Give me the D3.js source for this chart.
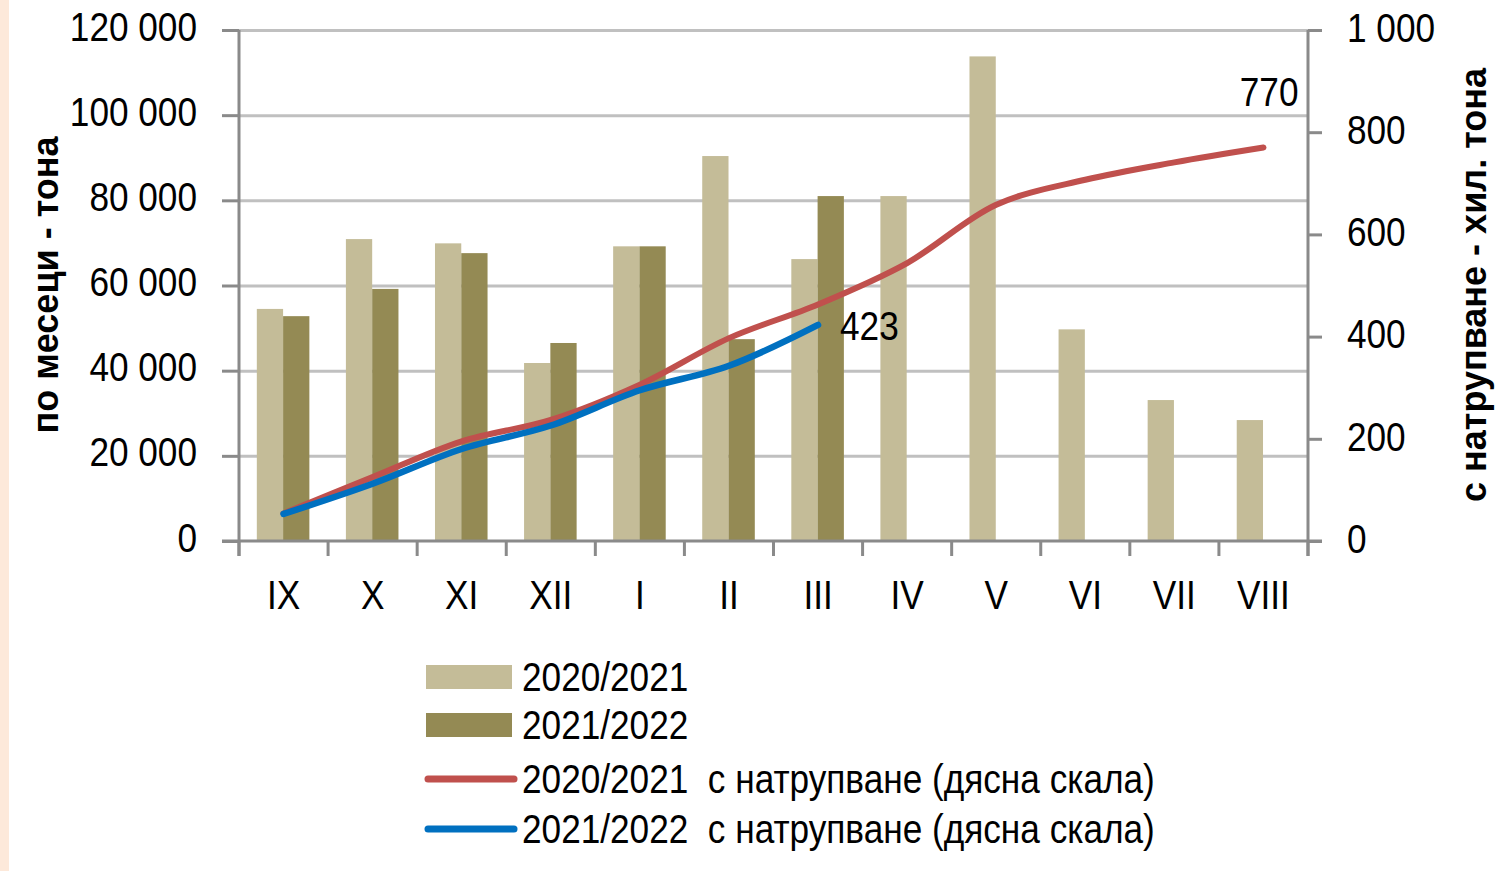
<!DOCTYPE html>
<html lang="bg">
<head>
<meta charset="UTF-8">
<title>Chart</title>
<script src="https://d3js.org/d3.v7.min.js"></script>
<style>
  html, body { margin: 0; padding: 0; background: #fff; }
  svg text { font-family: "Liberation Sans", Arial, sans-serif; fill: #000; }
</style>
</head>
<body>
<svg id="chart" width="1497" height="871"></svg>
<script>
// months of the marketing year
var months = ['IX', 'X', 'XI', 'XII', 'I', 'II', 'III', 'IV', 'V', 'VI', 'VII', 'VIII']
// monthly values, tonnes
var bars2021 = [54500, 70900, 69900, 41800, 69200, 90400, 66200, 81000, 113800, 49700, 33100, 28400]
var bars2022 = [52800, 59200, 67600, 46500, 69200, 47400, 81000]
// cumulative, thousand tonnes (right scale)
var cum2021 = [54, 125, 195, 237, 306, 397, 463, 544, 658, 707, 741, 770]
var cum2022 = [53, 112, 180, 226, 295, 343, 423]

var leftTicks = [0, 20000, 40000, 60000, 80000, 100000, 120000]
var rightTicks = [0, 200, 400, 600, 800, 1000]
var seriesNames = ['2020/2021', '2021/2022']
var legendLabels = ['2020/2021', '2021/2022', '2020/2021  с натрупване (дясна скала)', '2021/2022  с натрупване (дясна скала)']

var colLight = '#c4bc98'
var colDark = '#948a54'
var colRed = '#c0504d'
var colBlue = '#0070c0'
var colAxis = '#8a8a8a'
var colGrid = '#c0c0c0'
var squeeze = 0.88 // the original uses a narrow face

var svg = d3.select('#chart')
var plotL = 239, plotR = 1308, plotT = 30, plotB = 541

// narrow text: scale horizontally, keep anchor position
function narrow(sel) {
    sel.each(function () {
        var t = d3.select(this)
        var xv = +(t.attr('x') || 0)
        t.attr('x', xv / squeeze).attr('transform', function () {
            var old = t.attr('transform') || ''
            return old + ' scale(' + squeeze + ',1)'
        })
    })
}

// peach strip at the left edge
svg.append('rect').attr('x', 0).attr('y', 0).attr('width', 9).attr('height', 871).attr('fill', '#fde9da')

var x = d3.scaleBand().domain(months).range([plotL, plotR]).padding(0)
var xs = d3.scaleBand().domain(seriesNames).range([x.bandwidth() * 0.2, x.bandwidth() * 0.79])
var yL = d3.scaleLinear().domain([0, 120000]).range([plotB, plotT])
var yR = d3.scaleLinear().domain([0, 1000]).range([plotB, plotT])

function fmt(v) {
    return d3.format(',')(v).replace(/,/g, ' ')
}

// gridlines
svg.append('g')
    .attr('transform', 'translate(' + plotL + ',0)')
    .call(d3.axisRight(yL).tickValues(leftTicks.slice(1)).tickSize(plotR - plotL).tickFormat(''))
    .call(function (g) {
        g.select('.domain').remove()
        g.selectAll('line').attr('stroke', colGrid).attr('stroke-width', 3)
    })

// bars
var groups = svg.append('g').selectAll('g').data(months).join('g')
    .attr('transform', function (d) { return 'translate(' + x(d) + ',0)' })

groups.append('rect')
    .attr('x', xs('2020/2021'))
    .attr('width', xs.bandwidth())
    .attr('y', function (d, i) { return yL(bars2021[i]) })
    .attr('height', function (d, i) { return plotB - yL(bars2021[i]) })
    .attr('fill', colLight)

groups.filter(function (d, i) { return i < bars2022.length }).append('rect')
    .attr('x', xs('2021/2022'))
    .attr('width', xs.bandwidth())
    .attr('y', function (d, i) { return yL(bars2022[i]) })
    .attr('height', function (d, i) { return plotB - yL(bars2022[i]) })
    .attr('fill', colDark)

// axes
var axL = svg.append('g')
    .attr('transform', 'translate(' + plotL + ',0)')
    .call(d3.axisLeft(yL).tickValues(leftTicks).tickSize(17).tickPadding(25).tickFormat(fmt))
var axR = svg.append('g')
    .attr('transform', 'translate(' + plotR + ',0)')
    .call(d3.axisRight(yR).tickValues(rightTicks).tickSize(14).tickPadding(25).tickFormat(fmt))
var axB = svg.append('g')
    .attr('transform', 'translate(0,' + plotB + ')')
    .call(d3.axisBottom(x).tickSize(0).tickPadding(40))

;[axL, axR, axB].forEach(function (g) {
    g.select('.domain').attr('stroke', colAxis).attr('stroke-width', 3)
    g.selectAll('line').attr('stroke', colAxis).attr('stroke-width', 3)
    g.selectAll('text').attr('font-size', 40).attr('font-family', null)
})
axL.select('.domain').attr('d', 'M0,' + plotT + 'V' + (plotB + 15))
axR.select('.domain').attr('d', 'M0,' + plotT + 'V' + (plotB + 15))
axB.select('.domain').attr('d', 'M' + (plotL - 17) + ',0H' + (plotR + 14))
axB.selectAll('text').attr('dy', '0.71em').attr('y', 40)
axL.selectAll('text').attr('dy', '0.25em')
axR.selectAll('text').attr('dy', '0.28em')
narrow(axL.selectAll('text'))
narrow(axR.selectAll('text'))
narrow(axB.selectAll('text'))

// category boundary ticks
svg.append('g').selectAll('line').data(months.concat(['end'])).join('line')
    .attr('x1', function (d, i) { return plotL + i * x.step() })
    .attr('x2', function (d, i) { return plotL + i * x.step() })
    .attr('y1', plotB).attr('y2', plotB + 15)
    .attr('stroke', colAxis).attr('stroke-width', 3)

// cumulative lines
var line = d3.line()
    .x(function (d, i) { return x(months[i]) + x.bandwidth() / 2 })
    .y(function (d) { return yR(d) })
    .curve(d3.curveCatmullRom.alpha(0.5))

svg.append('path').datum(cum2021).attr('d', line)
    .attr('fill', 'none').attr('stroke', colRed).attr('stroke-width', 6).attr('stroke-linecap', 'round')
svg.append('path').datum(cum2022).attr('d', line)
    .attr('fill', 'none').attr('stroke', colBlue).attr('stroke-width', 6.5).attr('stroke-linecap', 'round')

// end labels
svg.append('text')
    .attr('x', x(months[cum2021.length - 1]) + x.bandwidth() / 2 + 35)
    .attr('y', yR(cum2021[cum2021.length - 1]) - 42)
    .attr('text-anchor', 'end').attr('font-size', 40)
    .text(cum2021[cum2021.length - 1])
    .call(narrow)
svg.append('text')
    .attr('x', x(months[cum2022.length - 1]) + x.bandwidth() / 2 + 22)
    .attr('y', yR(cum2022[cum2022.length - 1]) + 15)
    .attr('font-size', 40)
    .text(cum2022[cum2022.length - 1])
    .call(narrow)

// axis titles
svg.append('text')
    .attr('transform', 'translate(58,285) rotate(-90)')
    .attr('text-anchor', 'middle').attr('font-size', 36).attr('font-weight', 'bold')
    .text('по месеци - тона')
svg.append('text')
    .attr('transform', 'translate(1486,285) rotate(-90)')
    .attr('text-anchor', 'middle').attr('font-size', 36).attr('font-weight', 'bold')
    .text('с натрупване - хил. тона')

// legend
var legend = svg.append('g').attr('transform', 'translate(426,0)')
var legendY = [677, 725, 779, 829]
legendLabels.forEach(function (lab, i) {
    var g = legend.append('g').attr('transform', 'translate(0,' + legendY[i] + ')')
    if (i < 2) {
        g.append('rect').attr('x', 0).attr('y', -12).attr('width', 86).attr('height', 24)
            .attr('fill', i === 0 ? colLight : colDark)
    } else {
        g.append('line').attr('x1', 2).attr('x2', 88).attr('y1', 0).attr('y2', 0)
            .attr('stroke', i === 2 ? colRed : colBlue).attr('stroke-width', 7).attr('stroke-linecap', 'round')
    }
    g.append('text').attr('x', 96).attr('y', 14).attr('font-size', 40).attr('xml:space', 'preserve').text(lab)
        .call(narrow)
})
</script>
</body>
</html>
